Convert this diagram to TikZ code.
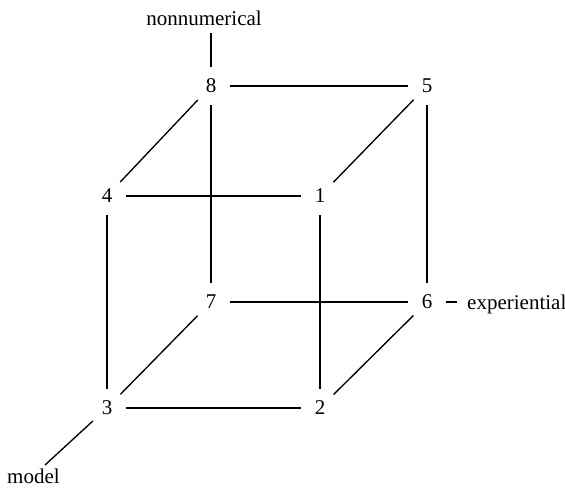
\documentclass[tikz,border=0pt]{standalone}
\usepackage{fontspec}
\setmainfont{Liberation Serif}
\begin{document}
\begin{tikzpicture}[x=1pt,y=-1pt,
  vtx/.style={circle,inner sep=0pt,minimum size=38pt,font=\fontsize{21}{24}\selectfont},
  lbl/.style={inner sep=0pt,font=\fontsize{21}{24}\selectfont},
  edge/.style={line width=1.35pt},
  backedge/.style={line width=1.7pt}]
\useasboundingbox (0,0) rectangle (565,491);
\node[vtx] (n8) at (211,86) {8};
\node[vtx] (n5) at (427,86) {5};
\node[vtx] (n4) at (107,196) {4};
\node[vtx] (n1) at (320,196) {1};
\node[vtx] (n7) at (211,302) {7};
\node[vtx] (n6) at (427,302) {6};
\node[vtx] (n3) at (107,408) {3};
\node[vtx] (n2) at (320,408) {2};
\node[lbl,anchor=base,inner ysep=8pt] (nonnum) at (204,25) {nonnumerical};
\node[lbl,anchor=base west,inner xsep=10pt] (exp) at (457,309) {experiential};
\node[lbl,anchor=base west] (model) at (7,483) {model};
\coordinate (mend) at (45,465);
\draw[edge] (n8) -- (n5);
\draw[edge] (n8) -- (n4);
\draw[edge] (n5) -- (n1);
\draw[edge] (n4) -- (n1);
\draw[backedge] (n8) -- (n7);
\draw[edge] (n5) -- (n6);
\draw[edge] (n4) -- (n3);
\draw[edge] (n1) -- (n2);
\draw[backedge] (n7) -- (n6);
\draw[edge] (n7) -- (n3);
\draw[edge] (n6) -- (n2);
\draw[edge] (n3) -- (n2);
\draw[edge] (n8) -- (n8 |- nonnum.south);
\draw[edge] (n6) -- (n6 -| exp.west);
\draw[edge] (n3) -- (mend);
\end{tikzpicture}
\end{document}
